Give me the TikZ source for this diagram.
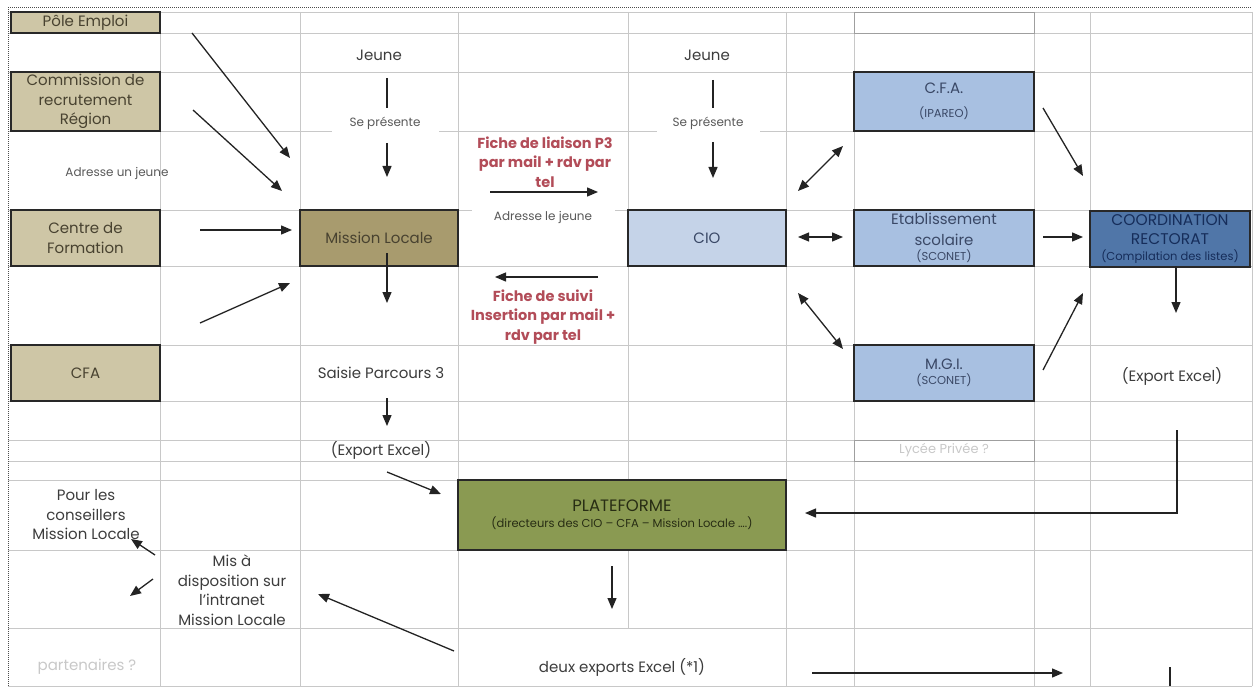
\documentclass[tikz,border=0pt]{standalone}
\usepackage{fontspec}
\setmainfont{Poppins}
\usetikzlibrary{arrows.meta,positioning}

\definecolor{gridgray}{RGB}{200,200,200}
\definecolor{boxline}{RGB}{40,40,40}
\definecolor{arrowgray}{RGB}{35,35,35}
\definecolor{tanfill}{RGB}{206,198,166}
\definecolor{olivefill}{RGB}{168,155,110}
\definecolor{ciofill}{RGB}{197,211,232}
\definecolor{bluefill}{RGB}{168,192,225}
\definecolor{coordfill}{RGB}{80,118,168}
\definecolor{platfill}{RGB}{138,154,82}
\definecolor{liaisonred}{RGB}{178,76,88}
\definecolor{txtgray}{RGB}{60,60,60}
\definecolor{txtbrown}{RGB}{72,66,48}
\definecolor{txtblue}{RGB}{58,72,102}
\definecolor{txtnavy}{RGB}{22,45,90}
\definecolor{txtolive}{RGB}{40,45,20}
\definecolor{ghostgray}{RGB}{200,200,200}

\newcommand{\subtxt}[1]{{\fontsize{11.5}{13}\selectfont #1}}

\tikzset{
    %Define standard arrow tip
    >={Triangle[length=11pt,width=9pt]},
    %Define style for boxes
    orgbox/.style={
           rectangle,
           draw=boxline, line width=1.3pt,
           inner sep=1pt,
           align=center,
           text centered,
           font=\fontsize{15}{19.5}\selectfont},
    tanbox/.style={orgbox, fill=tanfill, text=txtbrown, minimum width=149pt},
    bluebox/.style={orgbox, fill=bluefill, text=txtblue, minimum width=180pt},
    ghostbox/.style={
           rectangle,
           draw=gray!75, line width=0.9pt,
           minimum width=180pt, minimum height=21pt,
           text=ghostgray,
           font=\fontsize{13}{15}\selectfont},
    plain/.style={text=txtgray, align=center, font=\fontsize{15}{19.5}\selectfont},
    small/.style={text=txtgray!85, font=\fontsize{12}{14}\selectfont},
    redtxt/.style={text=liaisonred, align=center, font=\bfseries\fontsize{14.5}{19.5}\selectfont},
    % Define arrow style
    conn/.style={->, draw=arrowgray, line width=1.3pt},
    gridline/.style={draw=gridgray, line width=0.9pt}
}

\begin{document}
\begin{tikzpicture}[x=1pt,y=-1pt]
\useasboundingbox (0,0) rectangle (1255,687);
% grid of the sheet
\foreach \gy in {12,33,72,131,210,266,345,401,440,461,480,550,628,686}
    \draw[gridline] (8,\gy) -- (1252,\gy);
\foreach \gx in {160,300,458,786,854,1034,1090,1252}
    \draw[gridline] (\gx,12) -- (\gx,686);
\draw[gridline] (628,12) -- (628,628);
\draw[black!70, line width=1pt, dash pattern=on 1pt off 1pt] (8,686) -- (8,8) -- (1252,8);

% partners on the left
\node[tanbox, minimum height=21pt] (pole) at (85.5,22.5) {Pôle Emploi};
\node[tanbox, minimum height=59pt] (commission) at (85.5,101.5) {Commission de\\recrutement\\Région};
\node[tanbox, minimum height=56pt] (centre) at (85.5,238) {Centre de\\Formation};
\node[tanbox, minimum height=56pt] (cfa) at (85.5,373) {CFA};
\node[small] (adresseun) at (117,173) {Adresse un jeune};

% mission locale column
\node[plain] (jeuneML) at (379,55) {Jeune};
\node[small, fill=white, minimum width=107pt, minimum height=17pt] (sepML) at (385,123) {Se présente};
\node[orgbox, fill=olivefill, text=txtbrown, minimum width=158pt, minimum height=56pt] (mission) at (379,238) {Mission Locale};
\node[plain] (saisie) at (381,373) {Saisie Parcours 3};
\node[plain] (exportML) at (381,450) {(Export Excel)};

% exchanges between ML and CIO
\node[redtxt] (liaison) at (545,162) {Fiche de liaison P3\\par mail + rdv par\\tel};
\node[small, fill=white, minimum width=143pt, minimum height=20pt] (adressele) at (543,217) {Adresse le jeune};
\node[redtxt] (suivi) at (543,317) {Fiche de suivi\\Insertion par mail +\\rdv par tel};

% CIO column
\node[plain] (jeuneCIO) at (707,55) {Jeune};
\node[small, fill=white, minimum width=103pt, minimum height=17pt] (sepCIO) at (708,123) {Se présente};
\node[orgbox, fill=ciofill, text=txtblue, minimum width=158pt, minimum height=56pt] (cio) at (707,238) {CIO};

% schools
\node[ghostbox] (topcell) at (944,22.5) {};
\node[bluebox, minimum height=59pt] (cfaip) at (944,101.5) {C.F.A.\\[4.5pt]\subtxt{(IPAREO)}};
\node[bluebox, minimum height=56pt] (etab) at (944,238) {Etablissement\\[2pt]scolaire\\[-4.5pt]\subtxt{(SCONET)}};
\node[bluebox, minimum height=56pt] (mgi) at (944,373) {M.G.I.\\[-4.5pt]\subtxt{(SCONET)}};
\node[ghostbox] (lycee) at (944,450.5) {Lycée Privée ?};

% rectorat
\node[orgbox, fill=coordfill, text=txtnavy, minimum width=160pt, minimum height=56pt, font=\fontsize{15.5}{19.5}\selectfont] (coord) at (1170,239) {COORDINATION\\[-0.5pt]RECTORAT\\[-3.5pt]\subtxt{(Compilation des listes)}};
\node[plain] (exportR) at (1172,376) {(Export Excel)};

% plateforme and outputs
\node[orgbox, fill=platfill, text=txtolive, minimum width=328pt, minimum height=70pt, font=\fontsize{16.5}{19.5}\selectfont] (plateforme) at (622,515) {PLATEFORME\\[-3.5pt]\subtxt{(directeurs des CIO – CFA – Mission Locale ….)}};
\node[plain] (pourles) at (86,515) {Pour les\\conseillers\\Mission Locale};
\node[plain] (misa) at (232,590) {Mis à\\disposition sur\\l'intranet\\Mission Locale};
\node[plain, text=ghostgray] (partenaires) at (87,667) {partenaires ?};
\node[plain] (deuxexports) at (622,667) {deux exports Excel (*1)};

% arrow ends
\coordinate (pe-a) at (192,33);    \coordinate (pe-b) at (290,158);
\coordinate (cr-a) at (193,110);   \coordinate (cr-b) at (282,191);
\coordinate (cf-a) at (200,230);   \coordinate (cf-b) at (292,230);
\coordinate (ca-a) at (200,323);   \coordinate (ca-b) at (290,283);
\coordinate (jm-a) at (387,78);    \coordinate (jm-b) at (387,108);
\coordinate (jm-c) at (387,143);   \coordinate (jm-d) at (387,177);
\coordinate (jc-a) at (713,80);    \coordinate (jc-b) at (713,108);
\coordinate (jc-c) at (713,142);   \coordinate (jc-d) at (713,178);
\coordinate (li-a) at (490,192);   \coordinate (li-b) at (598,192);
\coordinate (su-a) at (598,277);   \coordinate (su-b) at (495,277);
\coordinate (ml-a) at (387,253);   \coordinate (ml-b) at (387,303);
\coordinate (sa-a) at (387,398);   \coordinate (sa-b) at (387,426);
\coordinate (ex-a) at (387,472);   \coordinate (ex-b) at (441,494);
\coordinate (ce-a) at (798,237);   \coordinate (ce-b) at (843,237);
\coordinate (cc-a) at (798,191);   \coordinate (cc-b) at (843,146);
\coordinate (cm-a) at (798,293);   \coordinate (cm-b) at (843,349);
\coordinate (fr-a) at (1043,108);  \coordinate (fr-b) at (1083,176);
\coordinate (er-a) at (1043,237);  \coordinate (er-b) at (1083,237);
\coordinate (mr-a) at (1043,370);  \coordinate (mr-b) at (1083,293);
\coordinate (rd-a) at (1176,266);  \coordinate (rd-b) at (1176,313);
\coordinate (rp-a) at (1177,430);  \coordinate (rp-b) at (805,513);
\coordinate (pd-a) at (612,566);   \coordinate (pd-b) at (612,609);
\coordinate (dm-a) at (454,651);   \coordinate (dm-b) at (318,594);
\coordinate (mp-a) at (155,555);   \coordinate (mp-b) at (131,539);
\coordinate (mq-a) at (153,579);   \coordinate (mq-b) at (130,596);
\coordinate (de-a) at (812,673);   \coordinate (de-b) at (1063,673);
\coordinate (dl-a) at (1170,667);  \coordinate (dl-b) at (1170,686);

\draw[conn] (pe-a) -- (pe-b);
\draw[conn] (cr-a) -- (cr-b);
\draw[conn] (cf-a) -- (cf-b);
\draw[conn] (ca-a) -- (ca-b);
\draw[conn, -] (jm-a) -- (jm-b);
\draw[conn] (jm-c) -- (jm-d);
\draw[conn, -] (jc-a) -- (jc-b);
\draw[conn] (jc-c) -- (jc-d);
\draw[conn] (li-a) -- (li-b);
\draw[conn] (su-a) -- (su-b);
\draw[conn] (ml-a) -- (ml-b);
\draw[conn] (sa-a) -- (sa-b);
\draw[conn] (ex-a) -- (ex-b);
\draw[conn, <->] (ce-a) -- (ce-b);
\draw[conn, <->] (cc-a) -- (cc-b);
\draw[conn, <->] (cm-a) -- (cm-b);
\draw[conn] (fr-a) -- (fr-b);
\draw[conn] (er-a) -- (er-b);
\draw[conn] (mr-a) -- (mr-b);
\draw[conn] (rd-a) -- (rd-b);
\draw[conn] (rp-a) |- (rp-b);
\draw[conn] (pd-a) -- (pd-b);
\draw[conn] (dm-a) -- (dm-b);
\draw[conn] (mp-a) -- (mp-b);
\draw[conn] (mq-a) -- (mq-b);
\draw[conn] (de-a) -- (de-b);
\draw[conn, -] (dl-a) -- (dl-b);
\end{tikzpicture}
\end{document}
